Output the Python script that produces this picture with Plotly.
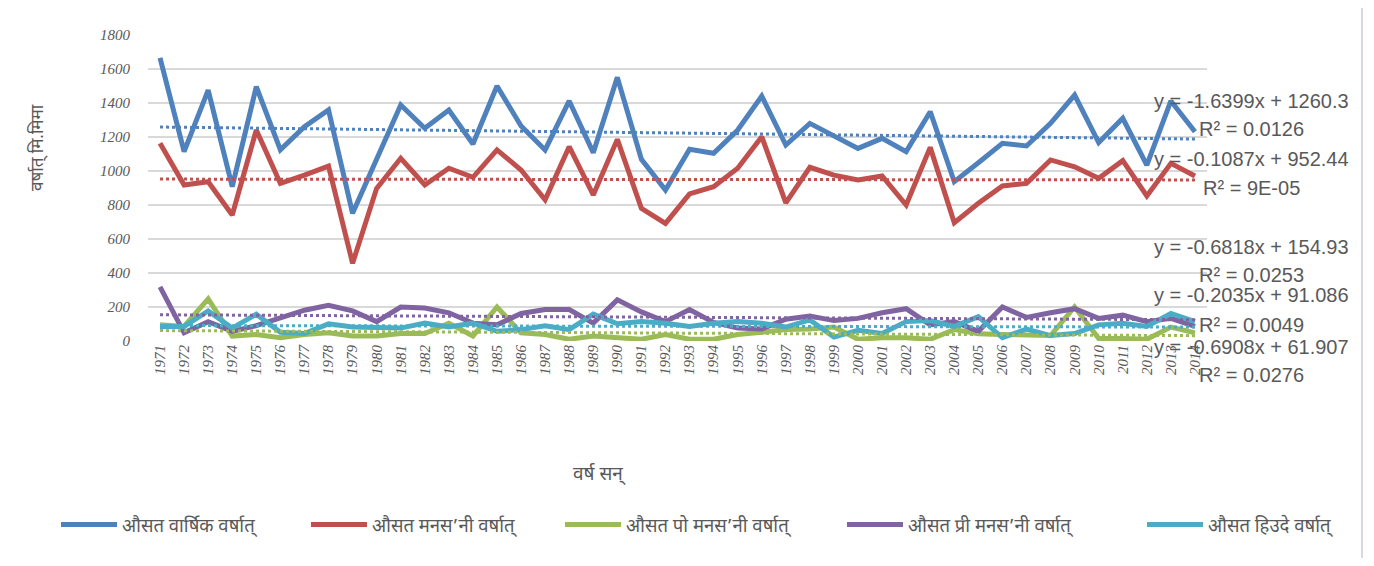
import plotly.graph_objects as go

years = list(range(1971, 2015))

annual = [1665, 1114, 1476, 908, 1496, 1124, 1261, 1359, 751, 1070, 1388, 1251, 1359, 1159, 1500, 1265,
          1124, 1412, 1108, 1551, 1069, 888, 1128, 1104, 1241, 1441, 1153, 1280, 1206, 1133, 1192, 1114,
          1349, 937, 1049, 1163, 1147, 1280, 1447, 1167, 1310, 1035, 1412, 1231]
monsoon = [1163, 918, 937, 741, 1241, 927, 976, 1029, 457, 898, 1075, 918, 1016, 963, 1124, 1006,
           831, 1143, 859, 1186, 780, 692, 865, 908, 1016, 1202, 812, 1022, 976, 947, 971, 800,
           1139, 696, 810, 912, 927, 1065, 1025, 957, 1061, 853, 1045, 971]
post_monsoon = [95, 86, 248, 29, 38, 19, 38, 48, 29, 29, 44, 44, 105, 29, 200, 48,
                38, 10, 29, 19, 10, 38, 10, 10, 38, 51, 67, 70, 82, 10, 19, 19,
                10, 67, 42, 38, 38, 32, 200, 15, 15, 10, 82, 48]
pre_monsoon = [318, 48, 114, 57, 90, 133, 181, 210, 177, 114, 200, 194, 166, 105, 95, 162,
               185, 185, 105, 242, 171, 114, 185, 109, 76, 70, 128, 147, 120, 133, 166, 190,
               95, 114, 57, 200, 139, 166, 190, 133, 152, 114, 133, 86]
winter = [86, 86, 177, 76, 158, 51, 44, 101, 82, 76, 76, 105, 82, 105, 57, 67,
          90, 67, 158, 101, 114, 105, 86, 105, 114, 105, 82, 124, 23, 63, 44, 114,
          120, 86, 143, 19, 70, 32, 44, 95, 105, 86, 162, 114]

names = ["औसत वार्षिक वर्षात्", "औसत मनस’नी वर्षात्", "औसत पो मनस’नी वर्षात्",
         "औसत प्री मनस’नी वर्षात्", "औसत हिउदे वर्षात्"]
series = [annual, monsoon, post_monsoon, pre_monsoon, winter]
colors = ["#4f81bd", "#c0504d", "#9bbb59", "#8064a2", "#4bacc6"]

# Linear trend coefficients as printed on the chart (x = 1..44)
trend_slope = [-1.6399, -0.1087, -0.6908, -0.6818, -0.2035]
trend_intercept = [1260.3, 952.44, 61.907, 154.93, 91.086]
trend_r2 = ["0.0126", "9E-05", "0.0276", "0.0253", "0.0049"]

OFF = 8  # page body margin
W, H = 1374 - 2 * OFF, 566 - 2 * OFF
L, R, T, B = 148 - OFF, 1207 - OFF, 35 - OFF, 341 - OFF

def px_x(px):
    return (px - OFF - L) / (R - L)
def px_y(py):
    return (B - (py - OFF)) / (B - T)

x = list(range(1, len(years) + 1))
fig = go.Figure()

dev_font = "Noto Sans Devanagari, Noto Serif Devanagari, Lohit Devanagari, Noto Sans, sans-serif"
legend_x = [62, 312, 566, 848, 1148]

for i, (nm, s, c) in enumerate(zip(names, series, colors)):
    fig.add_trace(go.Scatter(x=x, y=s, mode="lines", name=nm,
                             line=dict(color=c, width=5),
                             legend="legend" if i == 0 else f"legend{i+1}"))

for i, c in enumerate(colors):
    ty = [trend_slope[i] * xi + trend_intercept[i] for xi in x]
    fig.add_trace(go.Scatter(x=x, y=ty, mode="lines", showlegend=False, hoverinfo="skip",
                             line=dict(color=c, width=3, dash="dot")))

# Trend labels (order top to bottom as in the chart)
label_order = [0, 1, 3, 4, 2]
eq_py = [101, 159, 247, 295, 347]
r2_py = [129, 188, 275, 325, 375]
ann = []
lab_font = dict(family="Liberation Sans", size=20, color="#595959")
for k, i in enumerate(label_order):
    sgn = "-" if trend_slope[i] < 0 else ""
    eq = f"y = {sgn}{abs(trend_slope[i])}x + {trend_intercept[i]}"
    ann.append(dict(x=px_x(1251), y=px_y(eq_py[k]), xref="paper", yref="paper", text=eq,
                    xanchor="center", yanchor="middle", showarrow=False, font=lab_font))
    ann.append(dict(x=px_x(1251), y=px_y(r2_py[k]), xref="paper", yref="paper",
                    text=f"R² = {trend_r2[i]}", xanchor="center", yanchor="middle",
                    showarrow=False, font=lab_font))

ann.append(dict(x=px_x(38), y=px_y(148), xref="paper", yref="paper", text="वर्षात् मि.मिमा",
                xanchor="center", yanchor="middle",
                textangle=-90, showarrow=False, font=dict(family=dev_font, size=17, color="#595959")))
ann.append(dict(x=px_x(599), y=px_y(475), xref="paper", yref="paper", text="वर्ष सन्",
                xanchor="center", yanchor="middle",
                showarrow=False, font=dict(family=dev_font, size=19, color="#595959")))

layout_legends = {}
for i, lx in enumerate(legend_x):
    key = "legend" if i == 0 else f"legend{i+1}"
    layout_legends[key] = dict(x=(lx - OFF - 6) / W, y=1 - (525 - OFF) / H, xref="container", yref="container",
                               xanchor="left", yanchor="middle", orientation="h",
                               bgcolor="rgba(0,0,0,0)",
                               font=dict(family=dev_font, size=18.5, color="#595959"),
                               itemwidth=56)

fig.update_layout(
    width=W, height=H,
    margin=dict(l=L, r=W - R, t=T, b=H - B),
    plot_bgcolor="white", paper_bgcolor="white",
    annotations=ann,
    shapes=[dict(type="rect", xref="paper", yref="paper",
                 x0=px_x(7), x1=px_x(1362), y0=px_y(620), y1=px_y(5),
                 line=dict(color="#d9d9d9", width=2), layer="below")],
    **layout_legends,
)

fig.update_xaxes(range=[0.5, len(years) + 0.5], tickvals=x, ticktext=[str(y) for y in years],
                 tickangle=-90, showgrid=False, zeroline=False, showline=False,
                 tickfont=dict(family="Liberation Serif", size=15, color="#595959", style="italic"))
fig.update_yaxes(range=[0, 1800], dtick=200, showgrid=True, gridcolor="#d9d9d9", gridwidth=1.5,
                 zeroline=False, showline=False, ticklabelstandoff=17,
                 tickfont=dict(family="Liberation Serif", size=15, color="#595959", style="italic"))

fig.write_html("out.html")
